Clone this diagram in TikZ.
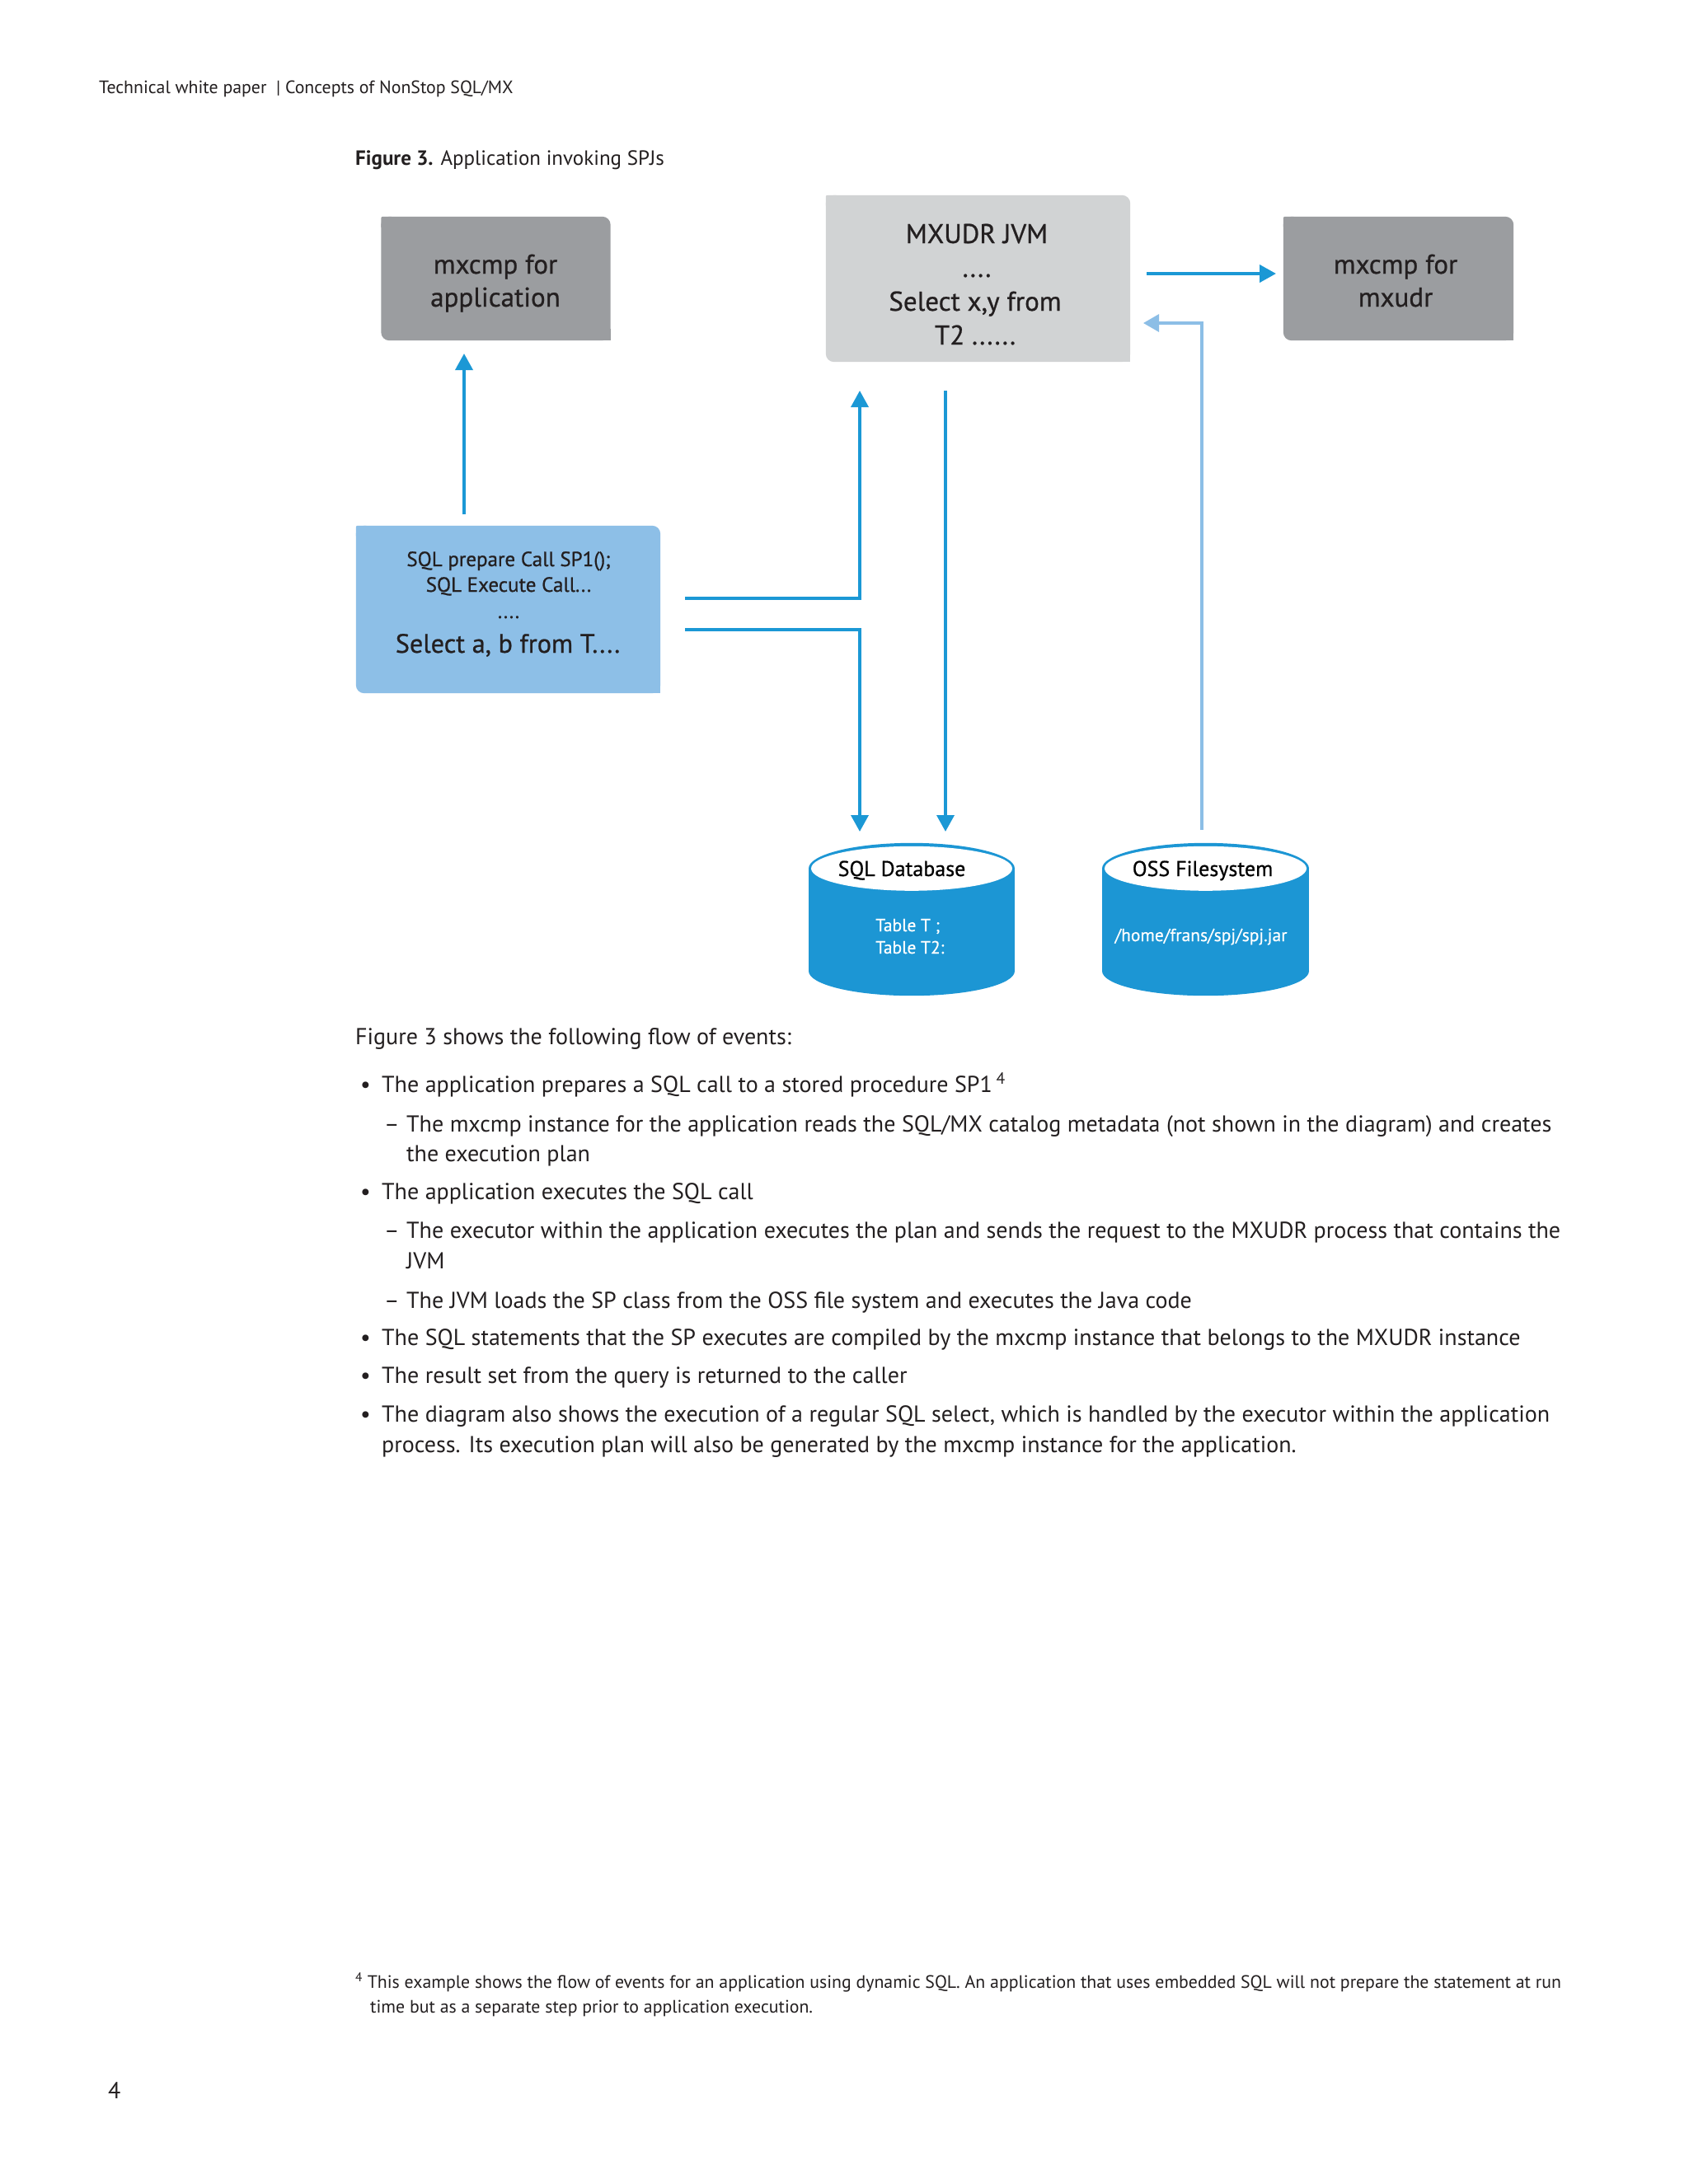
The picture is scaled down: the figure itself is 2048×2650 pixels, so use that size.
\documentclass[tikz,border=0pt]{standalone}
\usepackage{fontspec}
\setmainfont{PT Sans}
\usetikzlibrary{arrows.meta,calc,backgrounds}
\definecolor{boxgray}{HTML}{9B9DA0}
\definecolor{jvmgray}{HTML}{D1D3D4}
\definecolor{appblue}{HTML}{8DBFE7}
\definecolor{hpblue}{HTML}{1B98D5}
\definecolor{cylblue}{HTML}{1C96D4}
\definecolor{paleblue}{HTML}{8CBEE6}
\definecolor{txt}{HTML}{231F20}
\tikzset{
  boxnode/.style={inner sep=0, minimum width=#1},
  btxt/.style={anchor=base, inner sep=0, text=txt, font=\fontsize{33}{40}\selectfont\addfontfeature{FakeBold=0.7}},
  apptxt/.style={anchor=base, inner sep=0, text=txt, font=\fontsize{25}{30}\selectfont\addfontfeature{FakeBold=0.7}},
  cyltitle/.style={anchor=base, inner sep=0, text=black, font=\fontsize{26}{30}\selectfont\addfontfeature{FakeBold=0.7}},
  cylin/.style={inner sep=0, text=white, font=\fontsize{21.5}{27}\selectfont\addfontfeature{FakeBold=0.4}},
  bodytxt/.style={anchor=base west, inner sep=0, text=txt, font=\fontsize{28}{32}\selectfont},
  foottxt/.style={anchor=base west, inner sep=0, text=txt, font=\fontsize{21.8}{26}\selectfont},
  flow/.style={draw=hpblue, line width=3.6pt, -{Triangle[length=20pt,width=21pt]}},
  pale/.style={draw=paleblue, line width=3.2pt, -{Triangle[length=19pt,width=21pt]}},
}
\begin{document}
\begin{tikzpicture}[x=1pt,y=-1pt]
\useasboundingbox (0,0) rectangle (2048,2650);

% header and caption
\node[foottxt] (hdr) at (120,113) {Technical white paper\ \ | Concepts of NonStop SQL/MX};
\node[anchor=base west, inner sep=0, text=txt, font=\fontsize{25}{28}\selectfont] (cap) at (431,200) {\textbf{Figure 3.} Application invoking SPJs};

% boxes (shapes)
\node[boxnode=278, minimum height=150] (appcmp) at (601.5,338) {};
\node[boxnode=369, minimum height=202] (jvm) at (1186.5,338) {};
\node[boxnode=279, minimum height=150] (udrcmp) at (1696.5,338) {};
\node[boxnode=369, minimum height=203] (app) at (616.5,739.5) {};

% box texts
\node[btxt] (appcmp1) at (601,332) {mxcmp for};
\node[btxt] (appcmp2) at (601,372) {application};
\node[btxt] (jvm1) at (1185,295) {MXUDR JVM};
\node[btxt] (jvm2) at (1185,336) {....};
\node[btxt] (jvm3) at (1183,377) {Select x,y from};
\node[btxt] (jvm4) at (1183,418) {T2 ......};
\node[btxt] (udr1) at (1693,332) {mxcmp for};
\node[btxt] (udr2) at (1693,372) {mxudr};
\node[apptxt] (app1) at (617,687) {SQL prepare Call SP1();};
\node[apptxt] (app2) at (617,718) {SQL Execute Call...};
\node[apptxt] (app3) at (617,750) {....};
\node[apptxt, font=\fontsize{32.2}{36}\selectfont\addfontfeature{FakeBold=0.7}] (app4) at (616,792) {Select a, b from T....};

% cylinders
\node[minimum width=250, minimum height=185, inner sep=0] (sqldb) at (1106,1115.5) {};
\node[minimum width=251, minimum height=185, inner sep=0] (oss) at (1462.5,1115.5) {};
\node[cyltitle] (sqlt) at (1094,1063) {SQL Database};
\node[cylin, anchor=base west] (sqlb1) at (1062,1130) {Table T ;};
\node[cylin, anchor=base west] (sqlb2) at (1062,1157) {Table T2:};
\node[cyltitle] (osst) at (1459,1063) {OSS Filesystem};
\node[cylin, anchor=base] (ossb) at (1457,1142) {/home/frans/spj/spj.jar};

\begin{scope}[on background layer]
  \fill[white] (0,0) rectangle (2048,2650);
  % box fills: rounded NE and SW corners
  \foreach \n/\c in {appcmp/boxgray, jvm/jvmgray, udrcmp/boxgray, app/appblue}{
    \fill[\c, rounded corners=10pt] (\n.north west) rectangle (\n.south east);
    \fill[\c, rounded corners=2pt] (\n.north west) rectangle ($(\n.north west)+(14,14)$);
    \fill[\c] (\n.south east) rectangle ($(\n.south east)+(-14,-14)$);
  }
  % cylinders
  \foreach \n/\r in {sqldb/125, oss/125.5}{
    \fill[cylblue] ($(\n.north west)+(0,31)$) rectangle ($(\n.south east)+(0,-30)$);
    \fill[cylblue] ($(\n.south)+(0,-30)$) ellipse [x radius=\r, y radius=30];
    \fill[cylblue] ($(\n.north)+(0,31)$) ellipse [x radius=\r, y radius=31];
    \fill[white] ($(\n.north)+(0,31)$) ellipse [x radius=\r-3, y radius=27];
  }
\end{scope}

% connector coordinates
\coordinate (appTop) at (563,624);
\coordinate (cmpBot) at (563,429);
\coordinate (appR1) at (831,726);
\coordinate (appR2) at (831,764);
\coordinate (jvmB1) at (1043,474);
\coordinate (jvmB2) at (1147,474);
\coordinate (dbT1) at (1043,1009);
\coordinate (dbT2) at (1147,1009);
\coordinate (jvmR1) at (1391,332);
\coordinate (udrL) at (1548,332);
\coordinate (ossT) at (1458,1007);
\coordinate (jvmR2) at (1387,392);

\draw[flow] (appTop) -- (cmpBot);
\draw[flow] (appR1) -| (jvmB1);
\draw[flow] (appR2) -| (dbT1);
\draw[flow] (jvmB2) -- (dbT2);
\draw[flow, line width=4pt] (jvmR1) -- (udrL);
\draw[pale] (ossT) |- (jvmR2);

% body text
\node[bodytxt] (p0) at (431,1267) {Figure 3 shows the following flow of events:};
\foreach \y in {1325,1455,1632,1678,1725}{\node[bodytxt] at (437,\y) {•};}
\foreach \y in {1373,1502,1587}{\node[bodytxt] at (466,\y) {–};}
\node[bodytxt] (b1) at (463,1325) {The application prepares a SQL call to a stored procedure SP1\,\textsuperscript{4}};
\node[bodytxt] (s1) at (493,1373) {The mxcmp instance for the application reads the SQL/MX catalog metadata (not shown in the diagram) and creates};
\node[bodytxt] (s1b) at (493,1409) {the execution plan};
\node[bodytxt] (b2) at (463,1455) {The application executes the SQL call};
\node[bodytxt] (s2) at (493,1502) {The executor within the application executes the plan and sends the request to the MXUDR process that contains the};
\node[bodytxt] (s2b) at (493,1539) {JVM};
\node[bodytxt] (s3) at (493,1587) {The JVM loads the SP class from the OSS file system and executes the Java code};
\node[bodytxt] (b3) at (463,1632) {The SQL statements that the SP executes are compiled by the mxcmp instance that belongs to the MXUDR instance};
\node[bodytxt] (b4) at (463,1678) {The result set from the query is returned to the caller};
\node[bodytxt] (b5) at (463,1725) {The diagram also shows the execution of a regular SQL select, which is handled by the executor within the application};
\node[bodytxt] (b5b) at (463,1762) {process. Its execution plan will also be generated by the mxcmp instance for the application.};

% footnote and page number
\node[foottxt] (fn1) at (431,2412) {\textsuperscript{4} This example shows the flow of events for an application using dynamic SQL. An application that uses embedded SQL will not prepare the statement at run};
\node[foottxt] (fn2) at (449,2442) {time but as a separate step prior to application execution.};
\node[bodytxt] (pg) at (131,2546) {4};
\end{tikzpicture}
\end{document}
